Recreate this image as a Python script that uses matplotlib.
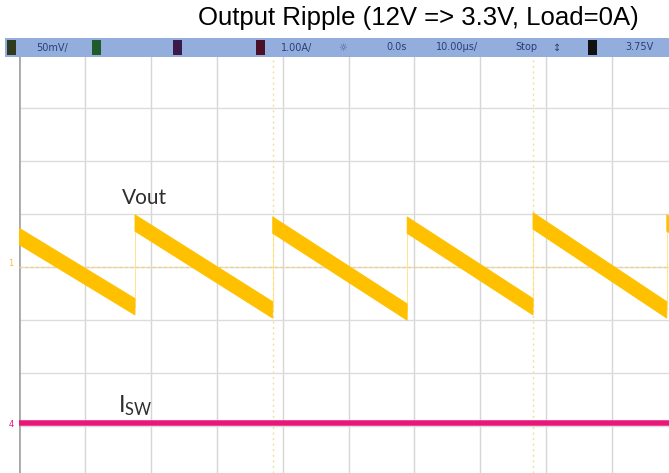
import matplotlib
matplotlib.use("Agg")
import matplotlib.pyplot as plt
from matplotlib.patches import Rectangle, Polygon

# Vout trace: linear ramps between jumps (time and level in divisions)
ramp_t0 = [0.0, 1.76, 3.85, 5.89, 7.80, 9.83]
ramp_t1 = [1.76, 3.85, 5.89, 7.80, 9.83, 9.87]
ramp_v0 = [0.58, 0.83, 0.79, 0.79, 0.87, 0.83]
ramp_v1 = [-0.75, -0.81, -0.85, -0.75, -0.81, 0.80]

# Isw trace (flat, divisions)
isw_t = [0.0, 9.87]
isw_v = [-2.94, -2.94]

# cursor lines (divisions)
cursor_t = [3.85, 7.80]

# status bar texts
bar_texts = ["50mV/", "1.00A/", "0.0s", "10.00\u00b5s/", "Stop", "3.75V"]
bar_text_x = [52, 297, 397, 457, 526, 639]

W, H = 669, 473
fig = plt.figure(figsize=(W / 100, H / 100), dpi=100)

# overlay in pixel coordinates for the scope chrome
ov = fig.add_axes([0, 0, 1, 1])
ov.set_xlim(0, W)
ov.set_ylim(H, 0)
ov.axis("off")

# plot area: grid origin at px (19, 267), 65.9 px / div horizontally, 53 px / div vertically
x0, dx = 19, 65.9
y0, dy = 267, 53
top_px = 57
ax = fig.add_axes([x0 / W, 0, (W - x0) / W, (H - top_px) / H])
ax.set_xlim(0, (W - x0) / dx)
ax.set_ylim((y0 - H) / dy, (y0 - top_px) / dy)
ax.set_facecolor("white")
for s in ax.spines.values():
    s.set_visible(False)
ax.set_xticks([])
ax.set_yticks([])

for k in range(0, 11):
    ax.axvline(k, color="#d6d6d6", lw=1.0, zorder=1)
for k in range(-4, 5):
    ax.axhline(k, color="#dcdcdc", lw=1.0, zorder=1)
ax.axvline(0, color="#a8a8a8", lw=2.0, zorder=2)
ax.axhline(0, color="#f3d27a", lw=1.0, ls=(0, (2, 2)), zorder=2)
for t in cursor_t:
    ax.axvline(t, color="#efe0a0", lw=1.0, ls=(0, (1.5, 2.5)), zorder=2)

# Vout ramps as bands
half = 0.155
yellow = "#ffc000"
for t0, t1, v0, v1 in zip(ramp_t0, ramp_t1, ramp_v0, ramp_v1):
    ax.add_patch(Polygon([(t0, v0 + half), (t1, v1 + half), (t1, v1 - half), (t0, v0 - half)],
                         closed=True, facecolor=yellow, edgecolor=yellow, lw=0.6, zorder=4))
for t1, v1, v0n in zip(ramp_t1[:-1], ramp_v1[:-1], ramp_v0[1:]):
    ax.plot([t1, t1], [v1, v0n], color="#ffe07a", lw=0.6, zorder=3)

# Isw trace
ax.plot(isw_t, isw_v, color="#e8177a", lw=4.0, solid_capstyle="butt", zorder=4)

# labels
ax.text(1.91, 1.30, "Vout", fontsize=15, family="Lato", color="#2e2e2e",
        ha="center", va="center", zorder=5)
ax.text(1.50, -2.62, r"$\mathregular{I_{SW}}$", fontsize=17, family="Lato", color="#2e2e2e",
        ha="left", va="center", zorder=5)

# status bar
ov.add_patch(Rectangle((5, 38), W - 5, 19, facecolor="#93addd", edgecolor="none", zorder=1))
box_x = [7, 92, 173, 256, 588]
box_c = ["#2f3a1e", "#1f5a2a", "#3a1a4a", "#4a1028", "#111111"]
box_t = ["1", "2", "3", "4", "T"]
for bx, bc, bt in zip(box_x, box_c, box_t):
    ov.add_patch(Rectangle((bx, 40), 9, 15, facecolor=bc, edgecolor="none", zorder=2))
for tx, tt in zip(bar_text_x, bar_texts):
    ov.text(tx, 47.5, tt, fontsize=7, color="#2a3f75", ha="center", va="center", zorder=3)
ov.text(343, 47.5, "\u263c", fontsize=7, color="#4a5f95", ha="center", va="center", zorder=3)
ov.text(557, 47.5, "\u2195", fontsize=7, color="#2a3f75", ha="center", va="center", zorder=3)
ov.plot([348], [60], marker="v", color="#e07a3a", ms=4, zorder=3)

# channel markers on the left
ov.text(11, 263, "1", fontsize=6, color="#f0c040", ha="center", va="center")
ov.text(11, 424, "4", fontsize=6, color="#e8177a", ha="center", va="center")

# title
ov.text(418, 18, "Output Ripple (12V => 3.3V, Load=0A)", fontsize=18.5,
        family="Liberation Sans", color="black", ha="center", va="center")

fig.savefig("out.png", dpi=100)
